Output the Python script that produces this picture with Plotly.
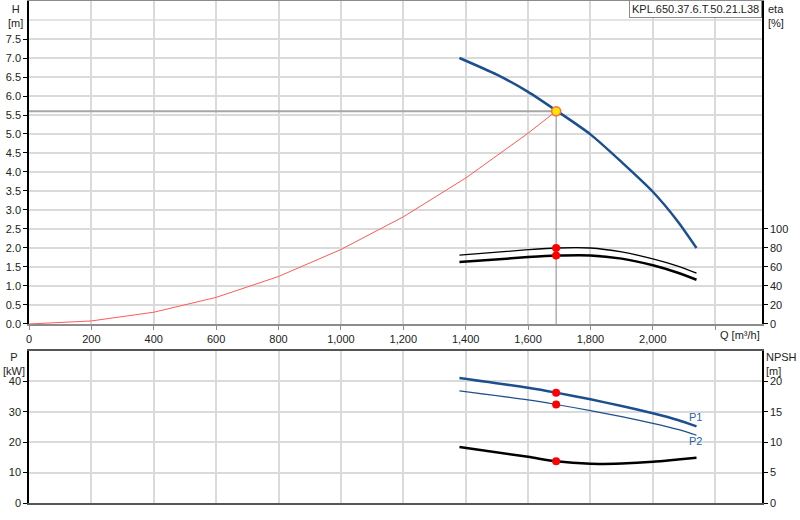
import plotly.graph_objects as go

# pump curve H(Q)
q_pump = [1380, 1500, 1600, 1690, 1800, 1900, 2000, 2080, 2140]
h_pump = [7.0, 6.56, 6.11, 5.62, 4.99, 4.26, 3.48, 2.70, 2.0]

# system curve
q_sys = [0, 200, 400, 600, 800, 1000, 1200, 1400, 1600, 1690]
h_sys = [0, 0.08, 0.31, 0.70, 1.25, 1.96, 2.82, 3.84, 5.02, 5.6]

# efficiency, power and NPSH curves
q_eta = [1380, 1600, 1690, 1800, 1900, 2000, 2080, 2140]
eta_pump = [72.5, 78.2, 80.0, 80.0, 75.8, 68.6, 61.0, 53.5]
eta_total = [65.2, 70.4, 72.0, 72.2, 68.8, 61.8, 54.0, 46.6]
p1 = [41.1, 37.9, 36.3, 34.1, 31.9, 29.5, 27.3, 25.2]
p2 = [36.9, 33.9, 32.4, 30.4, 28.4, 26.2, 24.2, 22.3]
npsh = [9.2, 7.6, 6.85, 6.45, 6.5, 6.77, 7.15, 7.45]

# duty point
q_duty = 1690
h_duty = 5.6
eta_duty = [80.0, 72.0]
p_duty = [36.3, 32.4]
npsh_duty = 6.85

model = "KPL.650.37.6.T.50.21.L38"

x_ticks = list(range(0, 2400, 200))
x_labels = [f"{v:,}" for v in x_ticks[:-1]] + [""]
h_ticks = [i * 0.5 for i in range(16)]
eta_ticks = [0, 20, 40, 60, 80, 100]
p_ticks = [0, 10, 20, 30, 40]
npsh_ticks = [0, 5, 10, 15, 20]

blue = "#1c4f8f"
grid = "#dadada"
font = dict(family="Liberation Sans, Arial, sans-serif", size=11, color="#222")


def curve(q, v, color, width, xa, ya):
    return go.Scatter(x=q, y=v, mode="lines",
                      line=dict(color=color, width=width, shape="spline", smoothing=0.7),
                      xaxis=xa, yaxis=ya)


def dots(q, v, xa, ya):
    return go.Scatter(x=q, y=v, mode="markers", marker=dict(color="#ff0000", size=8),
                      xaxis=xa, yaxis=ya)


fig = go.Figure()

# crosshair to duty point
fig.add_trace(go.Scatter(x=[0, q_duty], y=[h_duty, h_duty], mode="lines",
                         line=dict(color="#a6a6a6", width=2), xaxis="x", yaxis="y"))
fig.add_trace(go.Scatter(x=[q_duty, q_duty], y=[h_duty, 0], mode="lines",
                         line=dict(color="#888888", width=1), xaxis="x", yaxis="y"))

fig.add_trace(go.Scatter(x=q_sys, y=h_sys, mode="lines",
                         line=dict(color="#ff5a5a", width=1), xaxis="x", yaxis="y"))
fig.add_trace(curve(q_pump, h_pump, blue, 2.5, "x", "y"))

fig.add_trace(curve(q_eta, eta_pump, "black", 1.3, "x", "y2"))
fig.add_trace(curve(q_eta, eta_total, "black", 2.5, "x", "y2"))
fig.add_trace(dots([q_duty, q_duty], eta_duty, "x", "y2"))
fig.add_trace(go.Scatter(x=[q_duty], y=[h_duty], mode="markers",
                         marker=dict(color="#ffe800", size=9, line=dict(color="#ff6a3a", width=1.5)),
                         xaxis="x", yaxis="y"))

# lower panel
fig.add_trace(curve(q_eta, p1, blue, 2.5, "x2", "y3"))
fig.add_trace(curve(q_eta, p2, blue, 1.2, "x2", "y3"))
fig.add_trace(curve(q_eta, npsh, "black", 2.5, "x2", "y4"))
fig.add_trace(dots([q_duty, q_duty], p_duty, "x2", "y3"))
fig.add_trace(dots([q_duty], [npsh_duty], "x2", "y4"))

fig.update_layout(
    width=800, height=520,
    margin=dict(l=29, r=38, t=1, b=17),
    paper_bgcolor="white", plot_bgcolor="white",
    showlegend=False, font=font,
    xaxis=dict(domain=[0, 1], range=[0, 2350], anchor="y", tickvals=x_ticks, ticktext=x_labels,
               showgrid=True, gridcolor=grid, gridwidth=1.5, zeroline=False, automargin=False,
               showline=True, linecolor="#8c8c8c", linewidth=2, mirror=True,
               ticks="outside", ticklen=4, tickcolor="#8c8c8c"),
    yaxis=dict(domain=[0.3566, 1], range=[0, 8.5], tickvals=h_ticks, tickformat=".1f",
               showgrid=True, gridcolor=grid, gridwidth=1.5, zeroline=False, automargin=False,
               showline=True, linecolor="black", linewidth=1.5,
               ticks="outside", ticklen=4, tickcolor="black"),
    yaxis2=dict(overlaying="y", side="right", anchor="x", range=[0, 340], tickvals=eta_ticks,
                showgrid=False, zeroline=False, automargin=False,
                showline=True, linecolor="black", linewidth=1.5,
                ticks="outside", ticklen=4, tickcolor="black"),
    xaxis2=dict(domain=[0, 1], range=[0, 2350], anchor="y3", tickvals=x_ticks,
                showticklabels=False, showgrid=True, gridcolor=grid, gridwidth=1.5, zeroline=False,
                automargin=False, showline=True, linecolor="#555555", linewidth=1.5, mirror=True),
    yaxis3=dict(domain=[0, 0.3028], range=[0, 50], tickvals=p_ticks,
                showgrid=True, gridcolor=grid, gridwidth=1.5, zeroline=False, automargin=False,
                showline=True, linecolor="black", linewidth=1.5,
                ticks="outside", ticklen=4, tickcolor="black"),
    yaxis4=dict(overlaying="y3", side="right", anchor="x2", range=[0, 25], tickvals=npsh_ticks,
                showgrid=False, zeroline=False, automargin=False,
                showline=True, linecolor="black", linewidth=1.5,
                ticks="outside", ticklen=4, tickcolor="black"),
)

# 8.0 gridline without label
fig.add_shape(type="line", xref="paper", yref="y", x0=0, x1=1, y0=8.0, y1=8.0,
              line=dict(color=grid, width=1.5), layer="below")

fig.add_annotation(xref="paper", yref="paper", x=-0.019, y=1.0, text="H<br>[m]",
                   showarrow=False, xanchor="center", yanchor="top", align="center")
fig.add_annotation(xref="paper", yref="paper", x=1.005, y=1.0, text="eta<br>[%]",
                   showarrow=False, xanchor="left", yanchor="top", align="left")
fig.add_annotation(xref="paper", yref="paper", x=-0.021, y=0.306, text="P<br>[kW]",
                   showarrow=False, xanchor="center", yanchor="top", align="center")
fig.add_annotation(xref="paper", yref="paper", x=1.003, y=0.306, text="NPSH<br>[m]",
                   showarrow=False, xanchor="left", yanchor="top", align="left")
fig.add_annotation(xref="x", yref="paper", x=2280, y=0.334, text="Q [m³/h]",
                   showarrow=False, xanchor="center", yanchor="middle")
fig.add_annotation(xref="paper", yref="paper", x=1.0, y=1.002, text=model,
                   showarrow=False, xanchor="right", yanchor="top",
                   bgcolor="white", bordercolor="#8c8c8c", borderwidth=1, borderpad=2)
fig.add_annotation(xref="x2", yref="y3", x=2136, y=28.2, text="P1", showarrow=False,
                   font=dict(color="#2a63a8", size=11))
fig.add_annotation(xref="x2", yref="y3", x=2136, y=20.3, text="P2", showarrow=False,
                   font=dict(color="#2a63a8", size=11))

fig.write_html("out.html", config={"displayModeBar": False},
               post_script="document.body.style.margin='0';")
